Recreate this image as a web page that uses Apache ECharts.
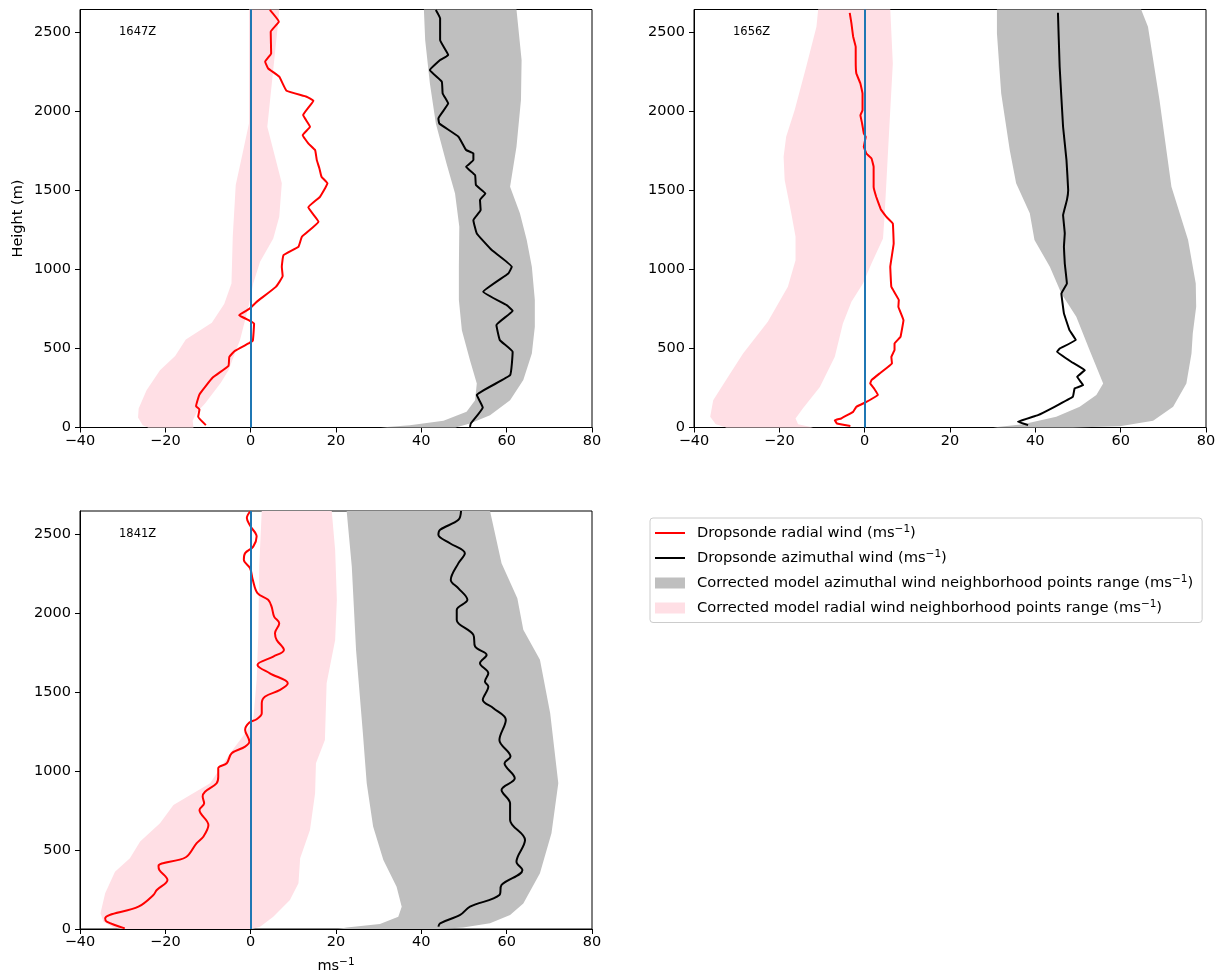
<!DOCTYPE html>
<html>
<head>
<meta charset="utf-8">
<script src="https://cdn.jsdelivr.net/npm/echarts@6/dist/echarts.min.js"></script>
<style>
  html, body { margin: 0; padding: 0; background: #fff; }
  #chart { width: 1219px; height: 976px; }
</style>
</head>
<body>
<div id="chart"></div>
<script>
// Wind profiles: [wind speed (m/s), height (m)]
const HEIGHT_MAX = 2645;
const heightTicks = [0, 500, 1000, 1500, 2000, 2500];
const panelTimes = ['1647Z', '1656Z', '1841Z'];

// ---- 1647Z ----
const radial1647 = [[-10.5,15],[-12.3,68],[-12.0,114],[-12.8,135],[-12.0,209],[-8.9,316],[-5.2,390],[-5.0,447],[-3.7,485],[-0.5,532],[0.5,549],[0.8,658],[-0.2,675],[-2.7,711],[-0.2,753],[1.4,795],[5.9,890],[7.5,958],[7.3,1017],[7.7,1091],[11.2,1144],[12.0,1207],[15.9,1302],[13.5,1393],[16.25,1460],[18.0,1545],[16.6,1587],[16.1,1640],[15.5,1692],[15.1,1756],[13.5,1798],[12.2,1850],[13.9,1903],[12.3,1977],[14.7,2068],[13.1,2093],[8.4,2131],[6.7,2220],[4.1,2272],[3.4,2315],[4.8,2367],[4.7,2504],[6.6,2568],[4.5,2642]];
const azim1647 = [[51.4,4],[51.6,25],[54.4,127],[53.0,205],[60.8,331],[61.4,479],[58.4,553],[57.6,648],[61.4,739],[60.0,774],[54.5,859],[60.4,975],[61.2,1017],[56.5,1123],[53.0,1228],[52.2,1312],[53.9,1376],[53.75,1439],[55.0,1481],[52.8,1534],[52.6,1597],[50.5,1650],[52.2,1692],[52.2,1734],[50.5,1756],[48.7,1840],[44.2,1924],[44.0,1956],[46.3,2051],[45.0,2114],[44.8,2188],[42.0,2262],[44.4,2325],[46.3,2357],[44.4,2452],[44.4,2589],[43.4,2642]];
const radMin1647 = [[-24,0],[-25.3,15],[-26.4,63],[-26.25,120],[-24.4,236],[-21.25,363],[-17.7,452],[-15.2,557],[-9.1,663],[-6.2,781],[-4.5,911],[-4.2,1207],[-3.7,1439],[-3.5,1534],[-1.9,1734],[-0.4,1924],[-0.4,2645]];
const radMax1647 = [[-13.4,0],[-13.6,42],[-12.7,93],[-10.7,152],[-7.0,283],[-5.2,363],[-2.5,553],[-0.5,764],[0.6,911],[2.2,1049],[5.3,1196],[6.7,1333],[7.3,1545],[3.9,1903],[6.5,2578],[6.7,2645]];
const azMin1647 = [[30.5,0],[37.3,15],[45.2,42],[50.6,99],[52.6,173],[53.0,279],[51.4,426],[49.5,616],[48.8,806],[48.8,1017],[48.9,1270],[47.9,1481],[45.9,1671],[43.4,1924],[42.0,2178],[40.9,2452],[40.6,2645]];
const azMax1647 = [[48,0],[51.4,25],[56.1,78],[60.8,173],[63.9,300],[65.9,468],[66.6,637],[66.6,806],[65.9,1017],[64.7,1186],[63.1,1355],[60.8,1523],[62.3,1777],[63.35,2072],[63.5,2325],[62.3,2645]];

// ---- 1656Z ----
const radial1656 = [[-3.35,10],[-6.5,25],[-7.0,46],[-5.5,57],[-2.7,99],[-1.95,131],[0.4,162],[3.1,205],[2.2,247],[1.3,279],[1.6,300],[3.5,342],[6.4,405],[6.25,447],[7.0,490],[7.0,532],[8.4,574],[9.1,679],[7.9,764],[8.0,806],[6.25,890],[6.0,1017],[6.8,1164],[6.6,1291],[5.1,1333],[3.9,1375],[3.7,1386],[2.7,1460],[2.1,1523],[2.1,1650],[1.6,1703],[0.4,1734],[-0.2,1776],[0.25,1840],[-0.2,1861],[-0.6,1924],[-1.0,1976],[-0.5,2008],[-0.5,2114],[-1.0,2177],[-1.95,2240],[-2.1,2325],[-2.1,2409],[-2.7,2473],[-3.1,2557],[-3.5,2624]];
const azim1656 = [[38.3,15],[35.9,36],[40.6,78],[44.5,131],[48.8,194],[49.2,247],[51.2,268],[49.8,321],[51.6,363],[48.4,416],[45.1,479],[45.7,500],[49.5,553],[48.0,616],[46.7,722],[46.1,848],[47.4,911],[46.9,1038],[46.7,1144],[46.9,1228],[46.5,1344],[47.4,1439],[47.7,1502],[47.3,1692],[46.5,1903],[45.7,2283],[45.3,2625]];
const radMin1656 = [[-32.4,0],[-34.9,21],[-36.2,68],[-35.5,173],[-32.0,321],[-28.5,468],[-22.7,669],[-18.0,891],[-16.2,1059],[-16.2,1207],[-17.2,1355],[-18.75,1566],[-19.0,1713],[-18.4,1840],[-16.4,2009],[-13.7,2283],[-11.3,2536],[-10.9,2645]];
const radMax1656 = [[-12.1,0],[-15.6,21],[-16.2,57],[-14.5,120],[-10.5,257],[-7.0,447],[-5.1,658],[-3.1,795],[-0.4,911],[1.6,1038],[4.3,1196],[4.7,1355],[5.7,1861],[6.6,2304],[6.0,2645]];
const azMin1656 = [[30.1,0],[37.1,21],[44.9,68],[50.4,131],[54.3,205],[55.9,279],[52.7,490],[49.6,701],[46.1,848],[43.4,1017],[39.8,1186],[38.7,1355],[35.5,1545],[34.0,1756],[32.0,2114],[31.0,2494],[31.0,2645]];
const azMax1656 = [[48.8,0],[59.8,8],[67.6,42],[72.3,131],[75.4,279],[76.6,468],[76.9,595],[77.7,764],[77.6,911],[75.8,1186],[71.9,1523],[69.1,2072],[66.4,2536],[64.8,2645]];

// ---- 1841Z ----
const radial1841 = [[-29.5,4],[-33.75,46],[-34.1,68],[-26.3,141],[-22.8,215],[-22.0,247],[-19.5,310],[-21.4,373],[-21.6,399],[-15.2,454],[-12.7,542],[-11.1,584],[-9.9,658],[-12.0,753],[-10.9,795],[-11.25,838],[-10.7,869],[-8.0,922],[-7.6,964],[-7.6,1017],[-5.6,1049],[-4.45,1112],[-1.3,1154],[-0.3,1186],[-1.3,1260],[-0.3,1306],[1.4,1327],[2.6,1365],[2.6,1428],[3.4,1471],[6.9,1513],[8.7,1555],[4.5,1618],[1.6,1671],[5.3,1724],[7.8,1766],[6.1,1829],[5.7,1872],[6.7,1935],[5.5,1977],[4.9,2040],[4.1,2083],[1.6,2125],[0.5,2209],[-0.15,2283],[-1.6,2336],[-1.3,2378],[0.6,2420],[1.4,2483],[0,2547],[-0.9,2600],[-0.15,2642]];
const azim1841 = [[44.0,15],[44.4,36],[49.1,89],[51.4,141],[58.3,215],[58.8,279],[63.7,373],[62.3,426],[64.3,563],[60.8,690],[60.8,795],[58.8,880],[61.9,954],[59.5,1049],[60.9,1091],[58.3,1196],[59.8,1323],[56.9,1397],[54.4,1450],[55.7,1534],[54.9,1566],[55.7,1618],[53.75,1682],[55.3,1734],[52.6,1787],[52.2,1861],[48.3,1956],[48.3,2019],[50.8,2083],[48.7,2156],[46.9,2209],[48.7,2315],[50.2,2378],[46.7,2441],[44.0,2494],[44.4,2526],[48.7,2589],[49.3,2645]];
const radMin1841 = [[-30,0],[-32.2,10],[-34.5,46],[-35.2,99],[-34.1,226],[-31.8,363],[-28.3,447],[-25.9,553],[-21.25,669],[-18.1,785],[-9.5,922],[-4.8,1112],[-1.3,1239],[0.6,1323],[1.4,1576],[1.8,1872],[2.0,2294],[2.6,2645]];
const radMax1841 = [[0.2,0],[2.2,15],[5.3,78],[9.2,184],[11.2,289],[11.6,447],[13.9,627],[15.1,859],[15.3,1049],[17.4,1196],[17.8,1555],[19.8,1829],[20.2,2083],[19.8,2399],[19.0,2645]];
const azMin1841 = [[20.5,0],[22.5,10],[30.3,32],[34.6,78],[35.4,141],[34.2,268],[31.1,437],[28.7,648],[27.2,922],[26.3,1239],[24.7,1766],[23.7,2294],[22.5,2645]];
const azMax1841 = [[44,0],[49.8,10],[56.1,36],[60.8,89],[63.9,162],[67.8,352],[70.5,606],[72.1,922],[70.2,1365],[67.8,1703],[63.9,1893],[62.5,2093],[58.8,2315],[56.1,2645]];

// Legend names; the unit "ms" is followed by a superscript "−1"
const NAME_RAD = 'Dropsonde radial wind';
const NAME_AZ = 'Dropsonde azimuthal wind';
const NAME_AZ_BAND = 'Corrected model azimuthal wind neighborhood points range';
const NAME_RAD_BAND = 'Corrected model radial wind neighborhood points range';
const withUnit = name => '{t|' + name + ' (ms}{s|\u22121}{t|)}';

const RED = '#ff0000', BLACK = '#000000', BLUE = '#1f77b4';
const PINK = '#ffdfe5', GRAY = '#bfbfbf';
const FONT = 'DejaVu Sans';
const FS = 14.5;
const SUP = { fontSize: 10.5, fontFamily: FONT, color: '#000', verticalAlign: 'top', lineHeight: 16 };
const BASE = { fontSize: FS, fontFamily: FONT, color: '#000', lineHeight: 18 };
const LEGEND_BASE = Object.assign({}, BASE, { fontSize: 14.7 });

const panels = [
  { time: panelTimes[0], radial: radial1647, azim: azim1647, rMin: radMin1647, rMax: radMax1647, aMin: azMin1647, aMax: azMax1647, smooth: 0.1 },
  { time: panelTimes[1], radial: radial1656, azim: azim1656, rMin: radMin1656, rMax: radMax1656, aMin: azMin1656, aMax: azMax1656, smooth: 0.05 },
  { time: panelTimes[2], radial: radial1841, azim: azim1841, rMin: radMin1841, rMax: radMax1841, aMin: azMin1841, aMax: azMax1841, smooth: 0.35 }
];

const grids = [
  { left: 80, top: 9.5, width: 512, height: 418 },
  { left: 694, top: 9.5, width: 512, height: 418 },
  { left: 80, top: 511, width: 512, height: 418 }
].map(g => Object.assign({ show: true, borderColor: '#000', borderWidth: 1, backgroundColor: 'transparent' }, g));

const minus = v => String(v).replace('-', '\u2212');

const xAxes = grids.map((g, i) => ({
  gridIndex: i, type: 'value', min: -40, max: 80, interval: 20,
  axisLine: { show: true, onZero: false, lineStyle: { color: '#000', width: 1 } },
  axisTick: { show: true, length: 5, lineStyle: { color: '#000' } },
  axisLabel: { color: '#000', fontSize: FS, fontFamily: FONT, margin: 6, formatter: minus },
  splitLine: { show: false },
  name: i === 2 ? '{t|ms}{s|\u22121}' : '',
  nameLocation: 'middle', nameGap: 28,
  nameTextStyle: { color: '#000', fontSize: FS, fontFamily: FONT, rich: { t: BASE, s: SUP } }
}));

const yAxes = grids.map((g, i) => ({
  gridIndex: i, type: 'value', min: 0, max: HEIGHT_MAX,
  axisLine: { show: true, onZero: false, lineStyle: { color: '#000', width: 1 } },
  axisTick: { show: true, length: 5, lineStyle: { color: '#000' }, customValues: heightTicks },
  axisLabel: { color: '#000', fontSize: FS, fontFamily: FONT, margin: 9, customValues: heightTicks, formatter: v => String(v) },
  splitLine: { show: false },
  name: i === 0 ? 'Height (m)' : '',
  nameLocation: 'middle', nameGap: 54,
  nameTextStyle: { color: '#000', fontSize: FS, fontFamily: FONT }
}));

// Filled range between a min edge and a max edge, through the axis scales
function bandSeries(name, minEdge, maxEdge, color, idx) {
  return {
    type: 'custom', name: name, xAxisIndex: idx, yAxisIndex: idx,
    itemStyle: { color: color }, z: 1, silent: true,
    data: [[minEdge[0][0], minEdge[0][1]]],
    renderItem: function (params, api) {
      const pts = minEdge.map(p => api.coord(p))
        .concat(maxEdge.slice().reverse().map(p => api.coord(p)));
      return { type: 'polygon', shape: { points: pts }, style: { fill: color } };
    }
  };
}

function lineSeries(name, data, color, idx, smooth) {
  return {
    type: 'line', name: name, xAxisIndex: idx, yAxisIndex: idx,
    data: data, showSymbol: false, symbol: 'none', smooth: smooth,
    lineStyle: { color: color, width: 2 }, itemStyle: { color: color }, z: 3
  };
}

const series = [];
panels.forEach((p, i) => {
  series.push(bandSeries(NAME_AZ_BAND, p.aMin, p.aMax, GRAY, i));
  series.push(bandSeries(NAME_RAD_BAND, p.rMin, p.rMax, PINK, i));
  series.push(lineSeries(NAME_RAD, p.radial, RED, i, p.smooth));
  series.push(lineSeries(NAME_AZ, p.azim, BLACK, i, p.smooth));
  // vertical zero line
  series.push({
    type: 'line', xAxisIndex: i, yAxisIndex: i, data: [], z: 5,
    markLine: {
      silent: true, symbol: 'none', label: { show: false },
      lineStyle: { color: BLUE, width: 2, type: 'solid' },
      data: [{ xAxis: 0 }]
    }
  });
});

const titles = [
  { text: panels[0].time, left: 119, top: 26 },
  { text: panels[1].time, left: 733, top: 26 },
  { text: panels[2].time, left: 119, top: 528 }
].map(t => Object.assign({ padding: 0, textStyle: { fontSize: 11.5, fontWeight: 'normal', color: '#000', fontFamily: FONT } }, t));

const LINE_ICON = 'path://M0,0 L30,0 L30,2 L0,2 Z';

const chart = echarts.init(document.getElementById('chart'), null, { renderer: 'canvas' });
chart.setOption({
  animation: false,
  backgroundColor: '#fff',
  title: titles,
  grid: grids,
  xAxis: xAxes,
  yAxis: yAxes,
  legend: {
    left: 650, top: 518, orient: 'vertical', selectedMode: false,
    itemWidth: 30, itemHeight: 11, itemGap: 8.5, symbolKeepAspect: true,
    padding: [6, 9, 7, 5],
    borderColor: '#cccccc', borderWidth: 1, borderRadius: 3, backgroundColor: '#fff',
    formatter: withUnit,
    textStyle: {
      fontSize: 14.7, fontFamily: FONT, color: '#000', padding: [0, 0, 0, 7],
      rich: { t: LEGEND_BASE, s: SUP }
    },
    data: [
      { name: NAME_RAD, icon: LINE_ICON },
      { name: NAME_AZ, icon: LINE_ICON },
      { name: NAME_AZ_BAND, icon: 'rect' },
      { name: NAME_RAD_BAND, icon: 'rect' }
    ]
  },
  series: series
});
</script>
</body>
</html>
